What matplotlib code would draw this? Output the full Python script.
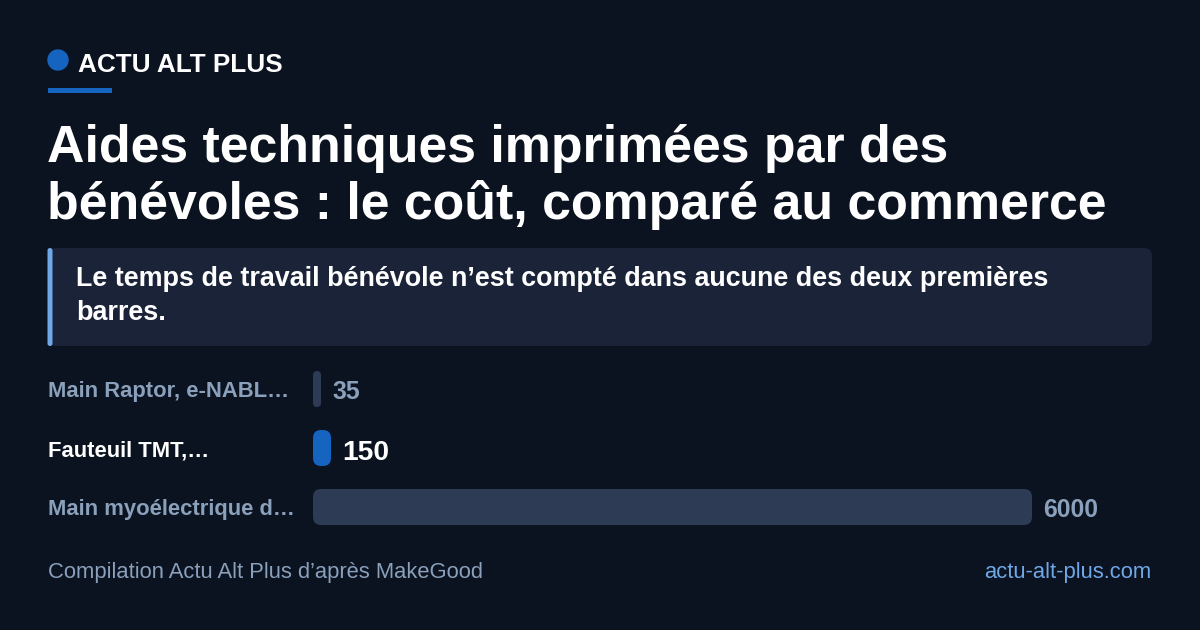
import matplotlib
matplotlib.use("Agg")
import matplotlib.pyplot as plt
from matplotlib.patches import FancyBboxPatch, Circle, Rectangle
from matplotlib import transforms

plt.rcParams['font.family'] = ['Liberation Sans', 'DejaVu Sans']

# données
labels = ["Main Raptor, e-NABL…", "Fauteuil TMT,…", "Main myoélectrique d…"]
values = [35, 150, 6000]
highlight = 1

brand = "ACTU ALT PLUS"
title_lines = ["Aides techniques imprimées par des",
               "bénévoles : le coût, comparé au commerce"]
note_lines = ["Le temps de travail bénévole n’est compté dans aucune des deux premières",
              "barres."]
source = "Compilation Actu Alt Plus d’après MakeGood"
site = "actu-alt-plus.com"

BG = "#0b1220"
PANEL = "#1a2338"
ACCENT = "#1565c0"
LIGHT = "#6fa8e8"
MUTED = "#8aa0bb"
BAR = "#2d3b55"

W, H = 1200, 630
fig = plt.figure(figsize=(W / 100, H / 100), dpi=100, facecolor=BG)

# calque en pixels
ax = fig.add_axes([0, 0, 1, 1])
ax.set_xlim(0, W)
ax.set_ylim(H, 0)
ax.axis("off")

# en-tête
ax.add_patch(Circle((58, 60), 10, color=ACCENT))
ax.text(78, 72, brand, color="white", fontsize=18.8, fontweight="bold", va="baseline")
ax.add_patch(Rectangle((48, 88), 64, 4.5, color=ACCENT, lw=0))

# titre
for i, line in enumerate(title_lines):
    ax.text(47, 162 + 57 * i, line, color="white", fontsize=37.4, fontweight="bold", va="baseline")

# encadré
ax.add_patch(FancyBboxPatch((48, 248), 1104, 98, boxstyle="round,pad=0,rounding_size=8",
                            fc=PANEL, ec="none"))
ax.add_patch(FancyBboxPatch((47.5, 248), 5, 98, boxstyle="round,pad=0,rounding_size=2.5",
                            fc=LIGHT, ec="none"))
for i, line in enumerate(note_lines):
    ax.text(76, 286 + 34 * i, line, color="white", fontsize=19.4, fontweight="bold", va="baseline")

# barres
x0, x1 = 313, 1032
y_top, y_bot = 371, 525
bx = fig.add_axes([x0 / W, (H - y_bot) / H, (x1 - x0) / W, (y_bot - y_top) / H])
bx.set_xlim(0, max(values))
pad = 18 / 59
bx.set_ylim(len(values) - 1 + pad, -pad)
bx.axis("off")

px_x = max(values) / (x1 - x0)      # unités x par pixel
px_y = 1 / 59                        # unités y par pixel
bar_h = 36 * px_y
aspect = px_y / px_x

lab_tr = transforms.blended_transform_factory(ax.transData, bx.transData)

for i, (lab, v) in enumerate(zip(labels, values)):
    hl = i == highlight
    w = max(v, 8 * px_x)
    r = min(8 * px_x, w / 2)
    bx.add_patch(FancyBboxPatch((0, i - bar_h / 2), w, bar_h,
                                boxstyle=f"round,pad=0,rounding_size={r}",
                                mutation_aspect=aspect,
                                fc=ACCENT if hl else BAR, ec="none"))
    bx.text(w + 11 * px_x, i + (11.5 if hl else 10) * px_y, str(v),
            color="white" if hl else MUTED, fontsize=20.3 if hl else 17.9,
            fontweight="bold", va="baseline")
    fig.text(48, i + 8 * px_y, lab, transform=lab_tr,
             color="white" if hl else MUTED, fontsize=15.8,
             fontweight="bold", va="baseline")

# pied
ax.text(48, 578, source, color=MUTED, fontsize=15.8, va="baseline")
ax.text(1151, 578, site, color=LIGHT, fontsize=15.8, va="baseline", ha="right")

fig.savefig("out.png", dpi=100, facecolor=BG)
